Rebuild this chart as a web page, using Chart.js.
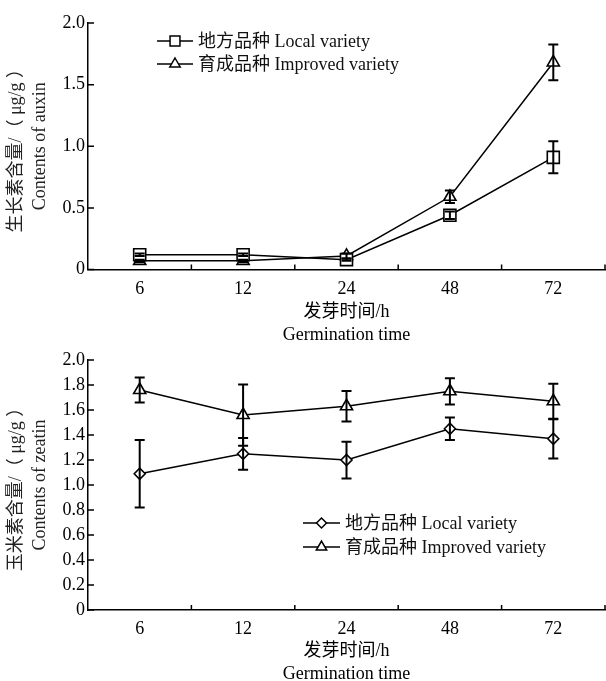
<!DOCTYPE html>
<html lang="zh">
<head>
<meta charset="UTF-8">
<meta name="viewport" content="width=device-width, initial-scale=1.0">
<title>生长素与玉米素含量</title>
<script src="https://cdn.jsdelivr.net/npm/chart.js"></script>
<style>
    html, body {
        margin: 0;
        padding: 0;
        width: 606px;
        height: 681px;
        overflow: hidden;
        background-color: white;
    }
    .chart-box {
        position: absolute;
        left: 0;
        width: 606px;
    }
    #box1 { top: 0; height: 347px; }
    #box2 { top: 336px; height: 350px; }
</style>
</head>
<body>
<div class="chart-box" id="box1"><canvas id="auxinChart"></canvas></div>
<div class="chart-box" id="box2"><canvas id="zeatinChart"></canvas></div>

<script>
// categories: germination time (h)
const hours = ['6', '12', '24', '48', '72'];

// auxin content (μg/g) with error bars
const auxinLocal = [0.12, 0.12, 0.08, 0.44, 0.91];
const auxinLocalErr = [0.01, 0.01, 0.01, 0.03, 0.13];
const auxinImproved = [0.07, 0.07, 0.11, 0.59, 1.68];
const auxinImprovedErr = [0.01, 0.01, 0.02, 0.05, 0.145];
const auxinTicks = [0, 0.5, 1.0, 1.5, 2.0];

// zeatin content (μg/g) with error bars
const zeatinLocal = [1.09, 1.25, 1.20, 1.45, 1.37];
const zeatinLocalErr = [0.27, 0.127, 0.147, 0.09, 0.157];
const zeatinImproved = [1.76, 1.56, 1.63, 1.75, 1.67];
const zeatinImprovedErr = [0.10, 0.245, 0.122, 0.105, 0.14];
const zeatinTicks = [0, 0.2, 0.4, 0.6, 0.8, 1.0, 1.2, 1.4, 1.6, 1.8, 2.0];

const labelLocal = '地方品种 Local variety';
const labelImproved = '育成品种 Improved variety';

const FONT = "'Liberation Serif', 'Times New Roman', 'Noto Sans CJK SC', serif";

// marker shapes, same geometry as Chart.js point styles
function drawMarker(ctx, style, x, y, r) {
    ctx.beginPath();
    if (style === 'rect') {
        const s = Math.SQRT1_2 * r;
        ctx.rect(x - s, y - s, 2 * s, 2 * s);
    } else if (style === 'triangle') {
        ctx.moveTo(x, y - r);
        ctx.lineTo(x + r * 0.866, y + r / 2);
        ctx.lineTo(x - r * 0.866, y + r / 2);
        ctx.closePath();
    } else {
        ctx.moveTo(x, y - r);
        ctx.lineTo(x + r, y);
        ctx.lineTo(x, y + r);
        ctx.lineTo(x - r, y);
        ctx.closePath();
    }
    ctx.fillStyle = 'white';
    ctx.fill();
    ctx.stroke();
}

// error bars, inward ticks and the legend
const extrasPlugin = {
    id: 'extras',
    afterDatasetsDraw(chart) {
        const ctx = chart.ctx;
        const xs = chart.scales.x;
        const ys = chart.scales.y;
        ctx.save();
        ctx.strokeStyle = 'black';
        ctx.lineWidth = 2;
        chart.data.datasets.forEach(ds => {
            ds.data.forEach((v, i) => {
                const e = ds.errors[i];
                const x = xs.getPixelForValue(i);
                const y1 = ys.getPixelForValue(v + e);
                const y2 = ys.getPixelForValue(v - e);
                ctx.beginPath();
                ctx.moveTo(x, y1); ctx.lineTo(x, y2);
                ctx.moveTo(x - 5, y1); ctx.lineTo(x + 5, y1);
                ctx.moveTo(x - 5, y2); ctx.lineTo(x + 5, y2);
                ctx.stroke();
            });
        });
        ctx.restore();
    },
    afterDraw(chart) {
        const ctx = chart.ctx;
        const area = chart.chartArea;
        const xs = chart.scales.x;
        const ys = chart.scales.y;
        ctx.save();
        ctx.strokeStyle = 'black';
        ctx.lineWidth = 1.5;
        ctx.beginPath();
        ys.ticks.forEach(t => {
            const y = ys.getPixelForValue(t.value);
            ctx.moveTo(area.left, y);
            ctx.lineTo(area.left + 6, y);
        });
        for (let i = 0; i < hours.length; i++) {
            const x = xs.getPixelForValue(i + 0.5);
            ctx.moveTo(x, area.bottom);
            ctx.lineTo(x, area.bottom - 5);
        }
        ctx.stroke();

        const lg = chart.options.plugins.extras;
        ctx.font = '18px ' + FONT;
        ctx.textBaseline = 'middle';
        ctx.textAlign = 'left';
        chart.data.datasets.forEach((ds, k) => {
            const y = lg.rows[k];
            ctx.lineWidth = 1.5;
            ctx.beginPath();
            ctx.moveTo(lg.x1, y);
            ctx.lineTo(lg.x2, y);
            ctx.stroke();
            drawMarker(ctx, ds.pointStyle, (lg.x1 + lg.x2) / 2, y, ds.legendRadius);
            ctx.fillStyle = '#111';
            ctx.fillText(ds.label, lg.xt, y + 1);
        });
        ctx.restore();
    }
};

function makeChart(id, cfg) {
    const ctx = document.getElementById(id).getContext('2d');
    const series = (label, data, errors, style, r, lr) => ({
        label: label,
        data: data,
        errors: errors,
        borderColor: 'black',
        borderWidth: 1.5,
        pointStyle: style,
        pointRadius: r,
        legendRadius: lr,
        pointBorderWidth: 1.6,
        pointBackgroundColor: 'white',
        pointBorderColor: 'black',
        tension: 0
    });
    return new Chart(ctx, {
        type: 'line',
        data: {
            labels: hours,
            datasets: [
                series(labelLocal, cfg.local, cfg.localErr, cfg.localStyle, cfg.localR, cfg.localLR),
                series(labelImproved, cfg.improved, cfg.improvedErr, 'triangle', 7, 6)
            ]
        },
        options: {
            responsive: true,
            maintainAspectRatio: false,
            animation: false,
            layout: {
                autoPadding: false,
                padding: { top: cfg.padTop, right: 1, left: 0, bottom: 0 }
            },
            scales: {
                x: {
                    offset: true,
                    grid: { display: false, drawTicks: false },
                    border: { display: true, color: 'black', width: 1.5 },
                    ticks: { color: 'black', padding: 8.5, font: { family: FONT, size: 18, lineHeight: 1.2 } },
                    title: {
                        display: true,
                        text: ['发芽时间/h', 'Germination time'],
                        color: 'black',
                        padding: { top: 0, bottom: 0 },
                        font: { family: FONT, size: 18, lineHeight: 1.3 }
                    },
                    afterFit: s => {
                        s.height = cfg.xHeight;
                        s.paddingLeft = 0;
                        s.paddingRight = 0;
                    }
                },
                y: {
                    min: 0,
                    max: 2,
                    grid: { display: false, drawTicks: false },
                    border: { display: true, color: 'black', width: 1.5 },
                    afterBuildTicks: s => { s.ticks = cfg.ticks.map(v => ({ value: v })); },
                    ticks: {
                        color: 'black',
                        padding: 3,
                        font: { family: FONT, size: 18 },
                        callback: v => (v === 0 ? '0' : v.toFixed(1))
                    },
                    title: {
                        display: true,
                        text: cfg.yTitle,
                        color: '#222',
                        padding: { top: 5, bottom: 0 },
                        font: { family: FONT, size: 18, lineHeight: 1.3 }
                    },
                    afterFit: s => { s.width = 88; }
                }
            },
            plugins: {
                legend: { display: false },
                tooltip: { enabled: false },
                extras: cfg.legend
            }
        },
        plugins: [extrasPlugin]
    });
}

makeChart('auxinChart', {
    local: auxinLocal, localErr: auxinLocalErr, localStyle: 'rect', localR: 8.5, localLR: 7,
    improved: auxinImproved, improvedErr: auxinImprovedErr,
    ticks: auxinTicks,
    yTitle: ['生长素含量/（ μg/g ）', 'Contents of auxin'],
    padTop: 23, xHeight: 77.5,
    legend: { x1: 157, x2: 193, xt: 198, rows: [41, 64] }
});

makeChart('zeatinChart', {
    local: zeatinLocal, localErr: zeatinLocalErr, localStyle: 'rectRot', localR: 5.5, localLR: 5,
    improved: zeatinImproved, improvedErr: zeatinImprovedErr,
    ticks: zeatinTicks,
    yTitle: ['玉米素含量/（ μg/g ）', 'Contents of zeatin'],
    padTop: 24, xHeight: 76,
    legend: { x1: 303, x2: 340, xt: 345, rows: [187, 211] }
});
</script>
</body>
</html>
